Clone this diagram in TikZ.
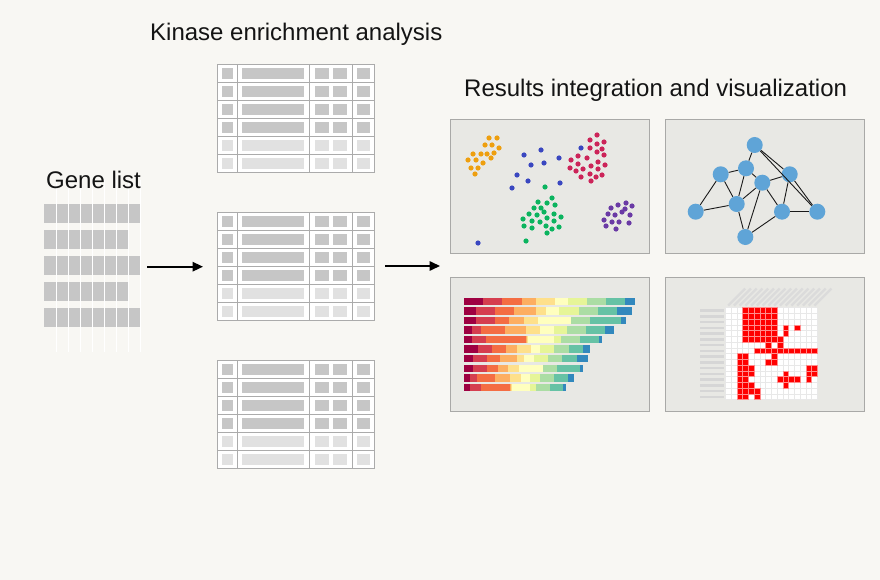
\documentclass[tikz,border=0pt]{standalone}
\usepackage{fontspec}
\setmainfont{Liberation Sans}
\usetikzlibrary{arrows.meta, positioning}

\definecolor{bgcol}{HTML}{F8F7F3}
\definecolor{panelfill}{HTML}{E8E8E4}
\definecolor{panelline}{HTML}{A9A9A7}
\definecolor{tableline}{HTML}{ABABAB}
\definecolor{celldark}{HTML}{C6C6C6}
\definecolor{celllight}{HTML}{E1E1E1}
\definecolor{dotorange}{HTML}{EE9F0F}
\definecolor{dotblue}{HTML}{3A47C0}
\definecolor{dotred}{HTML}{CC2459}
\definecolor{dotgreen}{HTML}{0BB45F}
\definecolor{dotpurple}{HTML}{6A3AA5}
\definecolor{netblue}{HTML}{5FA4D7}
\definecolor{heatred}{HTML}{FF0000}
\definecolor{sp1}{HTML}{9E0142}
\definecolor{sp2}{HTML}{D53E4F}
\definecolor{sp3}{HTML}{F46D43}
\definecolor{sp4}{HTML}{FDAE61}
\definecolor{sp5}{HTML}{FEE08B}
\definecolor{sp6}{HTML}{FFFFBF}
\definecolor{sp7}{HTML}{E6F598}
\definecolor{sp8}{HTML}{ABDDA4}
\definecolor{sp9}{HTML}{66C2A5}
\definecolor{sp10}{HTML}{3288BD}

\tikzset{
  title/.style={anchor=base west, inner sep=0pt, font=\fontsize{24}{28}\selectfont, text=black!92},
  panel/.style={draw=panelline, fill=panelfill, line width=1pt, anchor=north west,
    minimum width=199pt, minimum height=134pt, inner sep=0pt},
  tablebox/.style={draw=tableline, fill=white, line width=1.1pt, anchor=north west,
    minimum width=157pt, minimum height=108pt, inner sep=0pt},
  cellD/.style={fill=celldark},
  cellL/.style={fill=celllight},
  netnode/.style={circle, fill=netblue, minimum size=16pt, inner sep=0pt},
  netedge/.style={black!90, line width=0.9pt},
  arr/.style={-{Triangle[length=10.5pt, width=9.5pt]}, line width=1.6pt},
}

\begin{document}
\begin{tikzpicture}[x=1pt, y=-1pt]
  \fill[bgcol] (0,0) rectangle (880,580);
  \useasboundingbox (0,0) rectangle (880,580);

  % gene list
  \foreach \r/\n in {0/8, 1/7, 2/8, 3/7, 4/8}
    \fill[celldark] (44,204.3+26*\r) rectangle (45.2+12*\n,222.7+26*\r);
  \foreach \k in {0,...,7}
    \draw[white, line width=0.9pt] (56.7+12*\k,180) -- (56.7+12*\k,352);
  \node[title] (genes) at (46,188.3) {Gene list};

  % kinase tables
  \node[title] (kinase) at (150,41) {Kinase enrichment analysis};
  \foreach \ty [count=\t] in {64.3, 212.3, 360.3} {
    \node[tablebox] (table\t) at (217.3,\ty) {};
    \foreach \r/\c in {0/cellD, 1/cellD, 2/cellD, 3/cellD, 4/cellL, 5/cellL} {
      \foreach \xa/\xb in {222/233, 242/304, 315/329, 333/347, 357/370}
        \fill[\c] (\xa,\ty+18*\r+3.5) rectangle (\xb,\ty+18*\r+14.8);
    }
    \foreach \r in {1,...,5}
      \draw[tableline, line width=1.1pt] (217.3,\ty+18*\r) -- (374.3,\ty+18*\r);
    \foreach \x in {237.3, 309.3, 352.7}
      \draw[tableline, line width=1.1pt] (\x,\ty) -- (\x,\ty+108);
  }

  \coordinate (a1s) at (147,266.7);
  \coordinate (a1e) at (203,266.7);
  \coordinate (a2s) at (385,266);
  \coordinate (a2e) at (440,266);
  \draw[arr] (a1s) -- (a1e);
  \draw[arr] (a2s) -- (a2e);

  % results panels
  \node[title] (results) at (464,97) {Results integration and visualization};
  \node[panel] (scatter) at (450,119) {};
  \node[panel] (network) at (665,119) {};
  \node[panel] (bars) at (450,277) {};
  \node[panel] (heatmap) at (665,277) {};

  % clusters
  \foreach \p in {(489,138),(497,138),(485,145),(492,145),(499,148),(473,154),(481,154),(487,154),
      (494,153),(468,160),(476,160),(491,158),(483,163),(471,168),(478,168),(475,174)}
    \fill[dotorange] \p circle (2.6);
  \foreach \p in {(541,150),(524,155),(559,158),(531,165),(544,163),(517,175),(528,181),(512,188),
      (560,183),(478,243),(581,148)}
    \fill[dotblue] \p circle (2.6);
  \foreach \p in {(597,135),(590,140),(604,142),(597,144),(590,148),(602,149),(578,156),(587,158),
      (597,152),(604,155),(571,160),(578,164),(598,162),(570,168),(583,169),(591,166),(605,165),
      (598,169),(576,171),(590,174),(602,175),(581,177),(596,177),(591,181)}
    \fill[dotred] \p circle (2.6);
  \foreach \p in {(545,187),(552,198),(538,202),(547,203),(555,205),(534,208),(541,208),(529,214),
      (537,215),(544,212),(554,214),(561,217),(523,219),(532,221),(547,218),(540,222),(554,221),
      (524,226),(532,228),(546,226),(552,229),(559,227),(547,233),(526,241)}
    \fill[dotgreen] \p circle (2.6);
  \foreach \p in {(626,203),(618,205),(611,208),(632,206),(625,209),(622,212),(608,214),(615,215),
      (630,215),(604,220),(612,222),(619,222),(629,223),(606,226),(616,229)}
    \fill[dotpurple] \p circle (2.6);

  % network
  \foreach \n/\x/\y in {1/754.7/145, 2/746/168.3, 3/720.7/174.3, 4/762.3/182.7, 5/789.7/174.3,
      6/695.7/211.7, 7/736.7/204, 8/782/211.7, 9/817.3/211.7, 10/745.3/237}
    \node[netnode] (n\n) at (\x,\y) {};
  \foreach \a/\b in {1/2, 1/5, 1/9, 2/3, 2/4, 2/7, 3/6, 3/7, 4/7, 4/5, 4/8, 4/10,
      5/8, 5/9, 6/7, 7/10, 8/9, 8/10}
    \draw[netedge] (n\a) -- (n\b);

  % stacked bars
  \foreach \b [count=\k] in {
      {483.3,502.3,521.7,535.7,555,568.3,587,606,625,635},
      {475.7,495,514.3,535.7,545.7,559.3,578.7,597.7,617,631.7},
      {475.7,495,509.3,524.3,538.3,571,571,590,621,626},
      {471.7,480.7,505,526,540.3,553.7,567,586,605,613.7},
      {471.7,486,526,527,528,553.7,561,580.3,599.3,602},
      {478.3,492,506,517,531,540.3,554.3,569,583,589.7},
      {472.7,487.3,500.3,517,524.3,534.3,548.3,562.3,577,587.7},
      {472.7,487.3,497.7,508.3,519.3,543.3,543.3,556.7,580,583},
      {470,477,495,510,520.7,530,540,553.7,567.7,574.3},
      {470,480.7,510,511,512,530,535.7,549.7,563.3,565.7}} {
    \pgfmathsetmacro\by{297.7+9.55*(\k-1)}
    \foreach \x [count=\j, remember=\x as \lx (initially 464)] in \b
      \fill[fill=sp\j] (\lx,\by) rectangle (\x,\by+7.4);
  }

  % heatmap
  \def\hx{725.3}
  \def\hy{307.7}
  \def\hc{5.75}
  \fill[white] (\hx,\hy) rectangle (\hx+16*\hc,\hy+16*\hc);
  \foreach \k in {0,...,16} {
    \draw[black!9, line width=0.5pt] (\hx+\k*\hc,\hy) -- (\hx+\k*\hc,\hy+16*\hc);
    \draw[black!9, line width=0.5pt] (\hx,\hy+\k*\hc) -- (\hx+16*\hc,\hy+\k*\hc);
  }
  \foreach \r/\cs in {0/{3,4,5,6,7,8}, 1/{3,4,5,6,7,8}, 2/{3,4,5,6,7,8},
      3/{3,4,5,6,7,8,10,12}, 4/{3,4,5,6,7,8,10}, 5/{3,4,5,6,7,8,9}, 6/{7,9},
      7/{5,6,7,8,9,10,11,12,13,14,15}, 8/{2,3,8}, 9/{2,3,7,8}, 10/{2,3,4,14,15},
      11/{2,3,4,10,14,15}, 12/{2,3,9,10,11,12,14}, 13/{2,3,4,10}, 14/{2,3,4,5}, 15/{2,3,5}} {
    \foreach \c in \cs
      \filldraw[fill=heatred, draw=red!45, line width=0.5pt]
        (\hx+\c*\hc,\hy+\r*\hc) rectangle ++(\hc,\hc);
  }
  \foreach \k in {0,...,15} {
    \draw[black!16, line width=2.3pt] (700,\hy+\k*\hc+2.9) -- (724,\hy+\k*\hc+2.9);
    \draw[black!14, line width=2.3pt] (\hx+\k*\hc+2.9,305.5) -- ++(17,-17);
  }
\end{tikzpicture}
\end{document}
